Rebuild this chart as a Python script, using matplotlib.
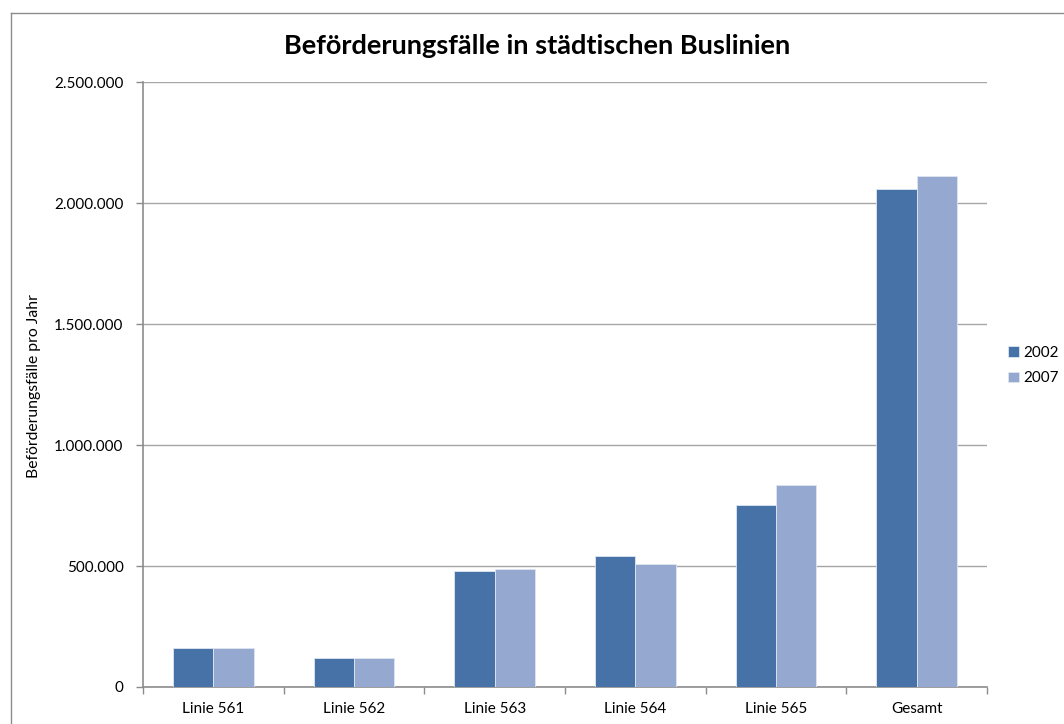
import matplotlib
matplotlib.use("Agg")
import matplotlib.pyplot as plt
import numpy as np
from matplotlib.ticker import FuncFormatter, FixedLocator
from matplotlib.lines import Line2D

categories = ["Linie 561", "Linie 562", "Linie 563", "Linie 564", "Linie 565", "Gesamt"]
series_names = ["2002", "2007"]
values_2002 = [160000, 121000, 480000, 540000, 754000, 2058000]
values_2007 = [161000, 120000, 486000, 508000, 833000, 2113000]
y_ticks = [0, 500000, 1000000, 1500000, 2000000, 2500000]

plt.rcParams['font.family'] = ['Lato', 'DejaVu Sans']

W, H = 1064, 724
fig = plt.figure(figsize=(W / 100, H / 100), dpi=100)
# outer chart border (left and top visible)
fig.lines.append(Line2D([10.5 / W, 10.5 / W], [0, 1 - 12.5 / H], transform=fig.transFigure,
                        color='#8c8c8c', linewidth=1.0))
fig.lines.append(Line2D([10.5 / W, 1], [1 - 12.5 / H, 1 - 12.5 / H], transform=fig.transFigure,
                        color='#8c8c8c', linewidth=1.0))

left, right, top, bottom = 143, 987, 82, 687
ax = fig.add_axes([left / W, 1 - bottom / H, (right - left) / W, (bottom - top) / H])

c1 = '#4672A8'
c2 = '#95A9D0'
x = np.arange(len(categories))
bw = 0.286
ax.bar(x - bw / 2, values_2002, bw, color=c1, edgecolor='#dfe6f0', linewidth=0.6,
       label=series_names[0], zorder=3)
ax.bar(x + bw / 2, values_2007, bw, color=c2, edgecolor='#dfe6f0', linewidth=0.6,
       label=series_names[1], zorder=3)

ax.set_xlim(-0.5, len(categories) - 0.5)
ax.set_ylim(0, 2500000)
ax.set_yticks(y_ticks)
ax.yaxis.set_major_formatter(FuncFormatter(lambda v, p: f"{int(v):,}".replace(",", ".")))
ax.set_xticks(x)
ax.set_xticklabels(categories)
ax.xaxis.set_minor_locator(FixedLocator(np.arange(-0.5, len(categories), 1.0)))
ax.tick_params(axis='x', which='major', length=0, labelsize=11, pad=11)
ax.tick_params(axis='x', which='minor', length=5, color='#8c8c8c', width=1)
ax.tick_params(axis='y', length=5, color='#8c8c8c', width=1, labelsize=11, pad=9)

ax.grid(axis='y', color='#a6a6a6', linewidth=1.0, zorder=0)
for s in ['top', 'right']:
    ax.spines[s].set_visible(False)
for s in ['left', 'bottom']:
    ax.spines[s].set_color('#8c8c8c')
    ax.spines[s].set_linewidth(1.2)
ax.set_axisbelow(True)

fig.text(34 / W, 1 - 386 / H, "Beförderungsfälle pro Jahr", rotation=90,
         ha='center', va='center', fontsize=11.3)
fig.text(537 / W, 1 - 46 / H, "Beförderungsfälle in städtischen Buslinien",
         ha='center', va='center', fontsize=19.5, fontweight='bold')

leg = ax.legend(loc='center left', bbox_to_anchor=(1.0, 0.531), frameon=False,
                fontsize=11, handlelength=0.7, handleheight=0.7, handletextpad=0.25,
                labelspacing=0.75, borderaxespad=1.0)

fig.savefig("out.png", dpi=100)
